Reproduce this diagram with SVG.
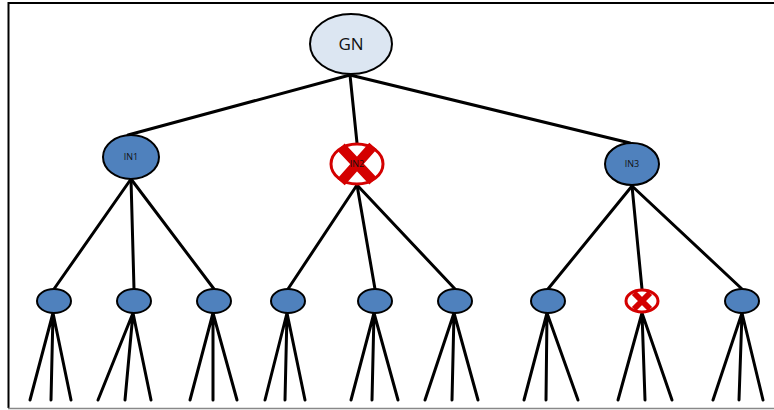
<svg xmlns="http://www.w3.org/2000/svg" width="774" height="410" viewBox="0 0 774 410">
<style>
.frame{stroke:#000;stroke-width:2;fill:none}
.edge{stroke:#000;stroke-width:3;fill:none;stroke-linecap:round}
.node{fill:#4f81bd;stroke:#000;stroke-width:2}
.root{fill:#dce6f2;stroke:#000;stroke-width:2}
.dead{fill:#fff;stroke:#d40000;stroke-width:3}
.x{stroke:#d40000;stroke-linecap:butt;fill:none}
.lbl{font-family:"Open Sans","DejaVu Sans",sans-serif;fill:#111;text-anchor:middle}
</style>
<rect width="774" height="410" fill="#fff"/>
<g id="frame">
<line class="frame" x1="8.5" y1="2" x2="8.5" y2="408"/>
<line class="frame" x1="8" y1="3" x2="774" y2="3"/>
<line x1="8" y1="408.5" x2="774" y2="408.5" stroke="#888" stroke-width="1.5"/>
</g>
<g id="connectors">
<line class="edge" x1="350" y1="75" x2="128" y2="135"/>
<line class="edge" x1="350" y1="75" x2="357" y2="143"/>
<line class="edge" x1="350" y1="75" x2="630" y2="143"/>
<line class="edge" x1="131" y1="179" x2="54" y2="289"/>
<line class="edge" x1="131" y1="179" x2="134" y2="289"/>
<line class="edge" x1="131" y1="179" x2="214" y2="289"/>
<line class="edge" x1="357" y1="185" x2="288" y2="289"/>
<line class="edge" x1="357" y1="185" x2="375" y2="289"/>
<line class="edge" x1="357" y1="185" x2="455" y2="289"/>
<line class="edge" x1="632" y1="186" x2="548" y2="289"/>
<line class="edge" x1="632" y1="186" x2="642" y2="289"/>
<line class="edge" x1="632" y1="186" x2="742" y2="289"/>
<path class="edge" d="M53 313L30 400M53 313L51 400M53 313L71 400"/>
<path class="edge" d="M133 313L98 400M133 313L125 400M133 313L151 400"/>
<path class="edge" d="M213 313L190 400M213 313L213 400M213 313L237 400"/>
<path class="edge" d="M287 313L265 400M287 313L285 400M287 313L305 400"/>
<path class="edge" d="M374 313L351 400M374 313L372 400M374 313L398 400"/>
<path class="edge" d="M454 313L425 400M454 313L452 400M454 313L478 400"/>
<path class="edge" d="M547 313L524 400M547 313L546 400M547 313L578 400"/>
<path class="edge" d="M642 313L618 400M642 313L645 400M642 313L672 400"/>
<path class="edge" d="M742 313L713 400M742 313L739 400M742 313L763 400"/>
</g>
<g id="GN">
<ellipse class="root" cx="351" cy="44" rx="41" ry="30"/>
<text class="lbl" x="351" y="50" font-size="17">GN</text>
</g>
<g id="IN1">
<ellipse class="node" cx="131" cy="157" rx="28" ry="22"/>
<text class="lbl" x="131" y="160" font-size="9">IN1</text>
</g>
<g id="IN2">
<ellipse class="dead" cx="357" cy="164" rx="26" ry="20"/>
<path class="x" stroke-width="10" d="M341 147L373 181M373 146L341 182"/>
<text class="lbl" x="357" y="167" font-size="9">IN2</text>
</g>
<g id="IN3">
<ellipse class="node" cx="632" cy="164" rx="27" ry="21"/>
<text class="lbl" x="632" y="167" font-size="9">IN3</text>
</g>
<g id="L1"><ellipse class="node" cx="54" cy="301" rx="17" ry="12"/></g>
<g id="L2"><ellipse class="node" cx="134" cy="301" rx="17" ry="12"/></g>
<g id="L3"><ellipse class="node" cx="214" cy="301" rx="17" ry="12"/></g>
<g id="L4"><ellipse class="node" cx="288" cy="301" rx="17" ry="12"/></g>
<g id="L5"><ellipse class="node" cx="375" cy="301" rx="17" ry="12"/></g>
<g id="L6"><ellipse class="node" cx="455" cy="301" rx="17" ry="12"/></g>
<g id="L7"><ellipse class="node" cx="548" cy="301" rx="17" ry="12"/></g>
<g id="L8">
<ellipse class="dead" cx="642" cy="301" rx="16" ry="11" stroke-width="2.5"/>
<path class="x" stroke-width="6" d="M634 293L650 309M650 293L634 309"/>
</g>
<g id="L9"><ellipse class="node" cx="742" cy="301" rx="17" ry="12"/></g>
</svg>
